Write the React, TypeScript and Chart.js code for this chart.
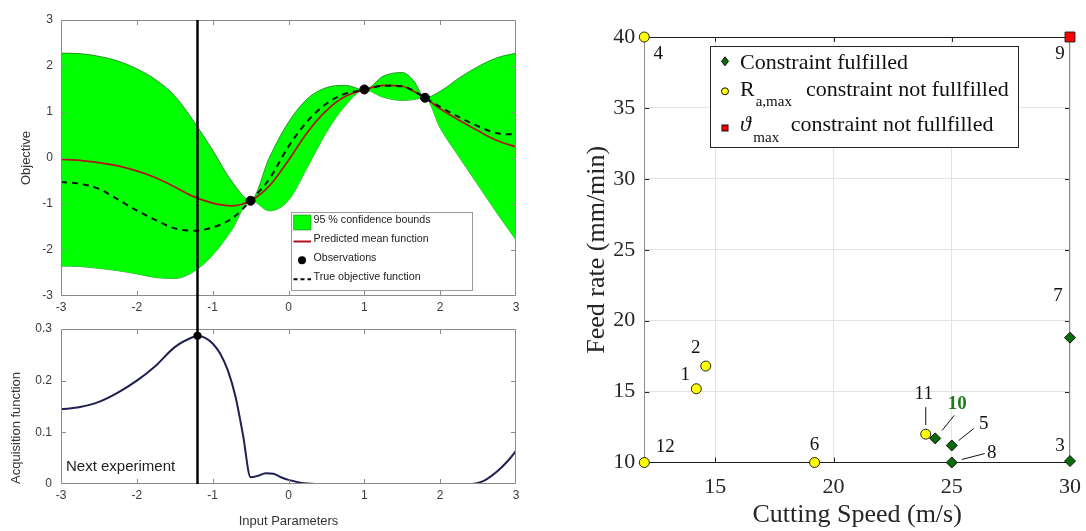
import React, { useEffect, useRef } from "react";
import { Chart, registerables } from "chart.js";

Chart.register(...registerables);

const SANS = '"Liberation Sans", Arial, Helvetica, sans-serif';
const SERIF = '"Liberation Serif", "Times New Roman", "DejaVu Serif", serif';

// ---------------- Left: Gaussian-process surrogate (top) ----------------
const gpX = [-3, -2.75, -2.5, -2.25, -2, -1.75, -1.5, -1.25, -1, -0.75, -0.5, -0.25, 0, 0.25, 0.5, 0.75, 1, 1.25, 1.5, 1.65, 1.8, 2, 2.25, 2.5, 2.75, 3];
const upperBound = [2.28, 2.27, 2.21, 2.11, 1.94, 1.7, 1.35, 0.8, 0.17, -0.5, -0.92, 0.02, 0.78, 1.29, 1.53, 1.58, 1.48, 1.78, 1.86, 1.68, 1.31, 1.45, 1.74, 1.99, 2.18, 2.28];
const lowerBound = [-2.35, -2.36, -2.4, -2.45, -2.52, -2.6, -2.62, -2.47, -2.11, -1.57, -0.92, -1.15, -0.92, -0.2, 0.56, 1.14, 1.48, 1.32, 1.25, 1.27, 1.31, 0.65, 0.02, -0.59, -1.2, -1.78];
const predictedMean = [-0.03, -0.05, -0.1, -0.17, -0.28, -0.43, -0.63, -0.84, -0.98, -1.04, -0.93, -0.6, -0.05, 0.56, 1.03, 1.34, 1.48, 1.58, 1.56, 1.45, 1.31, 1.07, 0.82, 0.59, 0.38, 0.24];
const trueObjective = [-0.52, -0.56, -0.67, -0.9, -1.14, -1.35, -1.53, -1.58, -1.51, -1.32, -0.93, -0.45, 0.25, 0.8, 1.18, 1.4, 1.48, 1.57, 1.56, 1.46, 1.31, 1.11, 0.89, 0.69, 0.54, 0.51];
const obsX = [-0.5, 1.0, 1.8];
const obsY = [-0.93, 1.49, 1.31];
const nextExperimentX = -1.2;

// ---------------- Left: acquisition function (bottom) ----------------
const acqX = [-3, -2.75, -2.5, -2.25, -2, -1.75, -1.5, -1.25, -1.2, -1.1, -1, -0.9, -0.8, -0.7, -0.6, -0.5, -0.4, -0.3, -0.2, -0.1, 0, 0.25, 0.5, 1, 1.5, 2, 2.4, 2.5, 2.6, 2.75, 2.9, 3];
const acqY = [0.1445, 0.149, 0.159, 0.177, 0.2, 0.229, 0.265, 0.285, 0.287, 0.283, 0.272, 0.252, 0.22, 0.17, 0.095, 0.013, 0.016, 0.021, 0.02, 0.013, 0.008, 0.001, 0, 0, 0, 0, 0, 0.002, 0.008, 0.024, 0.046, 0.064];
const nextExperimentAcq = 0.287;

const inputTicks = [-3, -2, -1, 0, 1, 2, 3];
const objectiveTicks = [-3, -2, -1, 0, 1, 2, 3];
const acqTicks = [0, 0.1, 0.2, 0.3];

// ---------------- Right: experiments ----------------
const fulfilledSpeed = [30, 25, 30, 25, 24.3];
const fulfilledFeed = [10.1, 11.2, 18.8, 10.0, 11.7];
const fulfilledIds = [3, 5, 7, 8, 10];
const raSpeed = [14.2, 14.6, 12, 19.2, 23.9, 12];
const raFeed = [15.2, 16.8, 40, 10, 12, 10];
const raIds = [1, 2, 4, 6, 11, 12];
const thetaSpeed = [30];
const thetaFeed = [40];
const thetaIds = [9];
const speedTicks = [15, 20, 25, 30];
const feedTicks = [10, 15, 20, 25, 30, 35, 40];

// label placement (pixel offsets from the marker), leader lines
const LABEL_LAYOUT: Record<number, { dx: number; dy: number; lead?: number[]; bold?: boolean }> = {
  1: { dx: -11, dy: -14 },
  2: { dx: -10, dy: -18 },
  3: { dx: -10, dy: -15 },
  4: { dx: 14, dy: 17 },
  5: { dx: 32, dy: -21, lead: [22, -17, 7, -5] },
  6: { dx: 0, dy: -17 },
  7: { dx: -12, dy: -42 },
  8: { dx: 40, dy: -9, lead: [33, -9, 10, -3] },
  9: { dx: -10, dy: 17 },
  10: { dx: 22, dy: -34, lead: [19, -23, 7, -8], bold: true },
  11: { dx: -2, dy: -40, lead: [0, -27, 0, -9] },
  12: { dx: 21, dy: -15 },
};

const pts = (xs: number[], ys: number[]) => xs.map((x, i) => ({ x, y: ys[i] }));

function framePlugin(id: string, o: { tl: number; tick: string; top: string; bottom: string; left: string; right: string; before?: boolean }) {
  const draw = (chart: any) => {
    const { ctx, chartArea: a, scales } = chart;
    const xs = scales.x;
    const ys = scales.y;
    ctx.save();
    ctx.lineWidth = 1;
    ctx.strokeStyle = o.tick;
    ctx.beginPath();
    for (const t of xs.ticks) {
      if (t.value <= xs.min + 1e-9 || t.value >= xs.max - 1e-9) continue;
      const p = Math.round(xs.getPixelForValue(t.value)) + 0.5;
      ctx.moveTo(p, a.top);
      ctx.lineTo(p, a.top + o.tl);
      ctx.moveTo(p, a.bottom);
      ctx.lineTo(p, a.bottom - o.tl);
    }
    for (const t of ys.ticks) {
      if (t.value <= ys.min + 1e-9 || t.value >= ys.max - 1e-9) continue;
      const p = Math.round(ys.getPixelForValue(t.value)) + 0.5;
      ctx.moveTo(a.left, p);
      ctx.lineTo(a.left + o.tl, p);
      ctx.moveTo(a.right, p);
      ctx.lineTo(a.right - o.tl, p);
    }
    ctx.stroke();
    const L = Math.round(a.left) + 0.5;
    const R = Math.round(a.right) - 0.5;
    const T = Math.round(a.top) + 0.5;
    const B = Math.round(a.bottom) - 0.5;
    const seg = (c: string, x1: number, y1: number, x2: number, y2: number) => {
      ctx.strokeStyle = c;
      ctx.beginPath();
      ctx.moveTo(x1, y1);
      ctx.lineTo(x2, y2);
      ctx.stroke();
    };
    seg(o.left, L, T, L, B);
    seg(o.right, R, T, R, B);
    seg(o.top, L, T, R, T);
    seg(o.bottom, L, B, R, B);
    ctx.restore();
  };
  return o.before ? { id, beforeDatasetsDraw: draw } : { id, afterDatasetsDraw: draw };
}

const topExtras = {
  id: "topExtras",
  afterDraw(chart: any) {
    const { ctx, chartArea: a, scales } = chart;
    ctx.save();
    // next-experiment line
    const xp = scales.x.getPixelForValue(nextExperimentX);
    ctx.strokeStyle = "#000";
    ctx.lineWidth = 2.5;
    ctx.beginPath();
    ctx.moveTo(xp, a.top);
    ctx.lineTo(xp, chart.height);
    ctx.stroke();
    // legend
    const bx = a.left + 230;
    const by = a.top + 192.3;
    ctx.fillStyle = "#fff";
    ctx.fillRect(bx, by, 181, 78);
    ctx.strokeStyle = "#9a9a9a";
    ctx.lineWidth = 1;
    ctx.strokeRect(Math.round(bx) + 0.5, Math.round(by) + 0.5, 181, 78);
    ctx.fillStyle = "#00ff00";
    ctx.fillRect(bx + 2.7, by + 2.7, 17.3, 15);
    ctx.strokeStyle = "#2a7a2a";
    ctx.lineWidth = 0.6;
    ctx.strokeRect(bx + 2.7, by + 2.7, 17.3, 15);
    ctx.strokeStyle = "#b4121b";
    ctx.lineWidth = 2;
    ctx.beginPath();
    ctx.moveTo(bx + 2.5, by + 29.2);
    ctx.lineTo(bx + 20, by + 29.2);
    ctx.stroke();
    ctx.fillStyle = "#000";
    ctx.beginPath();
    ctx.arc(bx + 11, by + 48, 4, 0, Math.PI * 2);
    ctx.fill();
    ctx.strokeStyle = "#000";
    ctx.setLineDash([4, 3]);
    ctx.beginPath();
    ctx.moveTo(bx + 2.5, by + 67);
    ctx.lineTo(bx + 20, by + 67);
    ctx.stroke();
    ctx.setLineDash([]);
    ctx.fillStyle = "#222";
    ctx.font = `10.7px ${SANS}`;
    ctx.textBaseline = "middle";
    ctx.textAlign = "left";
    const tx = bx + 22.5;
    ctx.fillText("95 % confidence bounds", tx, by + 8);
    ctx.fillText("Predicted mean function", tx, by + 26.5);
    ctx.fillText("Observations", tx, by + 45.5);
    ctx.fillText("True objective function", tx, by + 64.5);
    ctx.restore();
  },
};

const bottomExtras = {
  id: "bottomExtras",
  afterDraw(chart: any) {
    const { ctx, chartArea: a, scales } = chart;
    ctx.save();
    const xp = scales.x.getPixelForValue(nextExperimentX);
    ctx.strokeStyle = "#000";
    ctx.lineWidth = 2.5;
    ctx.beginPath();
    ctx.moveTo(xp, 0);
    ctx.lineTo(xp, a.bottom);
    ctx.stroke();
    ctx.fillStyle = "#000";
    ctx.beginPath();
    ctx.arc(xp, scales.y.getPixelForValue(nextExperimentAcq), 4, 0, Math.PI * 2);
    ctx.fill();
    ctx.fillStyle = "#222";
    ctx.font = `15px ${SANS}`;
    ctx.textAlign = "left";
    ctx.textBaseline = "alphabetic";
    ctx.fillText("Next experiment", a.left + 5, a.bottom - 13.5);
    ctx.restore();
  },
};

const rightExtras = {
  id: "rightExtras",
  afterDraw(chart: any) {
    const { ctx, chartArea: a } = chart;
    ctx.save();
    // point labels
    const idSets = [fulfilledIds, raIds, thetaIds];
    idSets.forEach((ids, di) => {
      const meta = chart.getDatasetMeta(di);
      ids.forEach((id, i) => {
        const el = meta.data[i];
        const lay = LABEL_LAYOUT[id];
        if (!el || !lay) return;
        const px = el.x;
        const py = el.y;
        if (lay.lead) {
          ctx.strokeStyle = "#111";
          ctx.lineWidth = 1;
          ctx.beginPath();
          ctx.moveTo(px + lay.lead[0], py + lay.lead[1]);
          ctx.lineTo(px + lay.lead[2], py + lay.lead[3]);
          ctx.stroke();
        }
        ctx.font = `${lay.bold ? "bold " : ""}19px ${SERIF}`;
        ctx.fillStyle = lay.bold ? "#1b7d1b" : "#111";
        ctx.textAlign = "center";
        ctx.textBaseline = "middle";
        ctx.fillText(String(id), px + lay.dx, py + lay.dy);
      });
    });
    // legend
    const bx = a.left + 65.7;
    const by = a.top + 9.3;
    const bw = 308;
    const bh = 101;
    ctx.fillStyle = "#fff";
    ctx.fillRect(bx, by, bw, bh);
    ctx.strokeStyle = "#262626";
    ctx.lineWidth = 1;
    ctx.strokeRect(Math.round(bx) + 0.5, Math.round(by) + 0.5, bw, bh);
    const mx = bx + 15;
    // diamond
    ctx.fillStyle = "#0b6b0b";
    ctx.strokeStyle = "#111";
    ctx.beginPath();
    ctx.moveTo(mx, by + 15 - 4.5);
    ctx.lineTo(mx + 3.5, by + 15);
    ctx.lineTo(mx, by + 15 + 4.5);
    ctx.lineTo(mx - 3.5, by + 15);
    ctx.closePath();
    ctx.fill();
    ctx.stroke();
    // circle
    ctx.fillStyle = "#ffff00";
    ctx.beginPath();
    ctx.arc(mx, by + 45, 3.5, 0, Math.PI * 2);
    ctx.fill();
    ctx.stroke();
    // square
    ctx.fillStyle = "#ff0000";
    ctx.fillRect(mx - 3, by + 81.7 - 3, 6, 6);
    ctx.strokeRect(mx - 3, by + 81.7 - 3, 6, 6);
    // texts
    ctx.fillStyle = "#111";
    ctx.textAlign = "left";
    ctx.textBaseline = "alphabetic";
    const tx = bx + 30;
    ctx.font = `22px ${SERIF}`;
    ctx.fillText("Constraint fulfilled", tx, by + 22.3);
    ctx.fillText("R", tx, by + 49.7);
    const w = ctx.measureText("R").width;
    ctx.font = `15px ${SERIF}`;
    ctx.fillText("a,max", tx + w + 1, by + 60);
    let w2 = ctx.measureText("a,max").width;
    ctx.font = `22px ${SERIF}`;
    ctx.fillText("constraint not fullfilled", tx + w + 1 + w2 + 14, by + 49.7);
    ctx.font = `italic 22px ${SERIF}`;
    ctx.fillText("\u03D1", tx, by + 84.7);
    ctx.font = `15px ${SERIF}`;
    ctx.fillText("max", tx + 13.3, by + 95.7);
    w2 = ctx.measureText("max").width;
    ctx.font = `22px ${SERIF}`;
    ctx.fillText("constraint not fullfilled", tx + 13.3 + w2 + 11.5, by + 84.7);
    ctx.restore();
  },
};

const baseOptions = {
  responsive: false,
  animation: false as const,
  devicePixelRatio: 1,
  events: [] as any[],
  plugins: { legend: { display: false }, tooltip: { enabled: false } },
};

const noGrid = { display: false, drawTicks: false };

const fixX = (h: number) => (s: any) => {
  s.height = h;
  s.paddingLeft = 0;
  s.paddingRight = 0;
};
const fixY = (w: number) => (s: any) => {
  s.width = w;
  s.paddingTop = 0;
  s.paddingBottom = 0;
};

function topConfig(): any {
  const line = (data: number[], extra: any) => ({
    data: pts(gpX, data),
    pointRadius: 0,
    cubicInterpolationMode: "monotone",
    ...extra,
  });
  return {
    type: "line",
    data: {
      datasets: [
        line(lowerBound, { label: "lower", borderColor: "#207a20", borderWidth: 0.8, fill: false, order: 11 }),
        line(upperBound, { label: "95 % confidence bounds", borderColor: "#207a20", borderWidth: 0.8, backgroundColor: "#00ff00", fill: "-1", order: 10 }),
        line(predictedMean, { label: "Predicted mean function", borderColor: "#b4121b", borderWidth: 1.7, fill: false, order: 3 }),
        line(trueObjective, { label: "True objective function", borderColor: "#111", borderWidth: 2, borderDash: [6, 5], fill: false, order: 2 }),
        {
          label: "Observations",
          data: pts(obsX, obsY),
          showLine: false,
          pointRadius: 4.5,
          pointBackgroundColor: "#000",
          pointBorderColor: "#000",
          order: 1,
        },
      ],
    },
    options: {
      ...baseOptions,
      layout: { padding: { top: 20, right: 14, left: 0, bottom: 0 }, autoPadding: false },
      scales: {
        x: {
          type: "linear",
          min: -3,
          max: 3,
          afterBuildTicks: (s: any) => { s.ticks = inputTicks.map((v) => ({ value: v })); },
          afterFit: fixX(20),
          grid: noGrid,
          border: { display: false },
          ticks: { padding: 4, color: "#3a3a3a", font: { family: SANS, size: 12 }, maxRotation: 0, autoSkip: false },
        },
        y: {
          type: "linear",
          min: -3,
          max: 3,
          afterBuildTicks: (s: any) => { s.ticks = objectiveTicks.map((v) => ({ value: v })); },
          afterFit: fixY(61),
          grid: noGrid,
          border: { display: false },
          ticks: { padding: 8, color: "#3a3a3a", font: { family: SANS, size: 12 } },
          title: { display: true, text: "Objective", color: "#333", font: { family: SANS, size: 13 }, padding: { top: 19, bottom: 0 } },
        },
      },
    },
    plugins: [framePlugin("topFrame", { tl: 5, tick: "#8a8a8a", top: "#8a8a8a", bottom: "#8a8a8a", left: "#8a8a8a", right: "#8a8a8a" }), topExtras],
  };
}

function bottomConfig(): any {
  return {
    type: "line",
    data: {
      datasets: [
        {
          label: "Acquisition function",
          data: pts(acqX, acqY),
          borderColor: "#1f2050",
          borderWidth: 2,
          pointRadius: 0,
          cubicInterpolationMode: "monotone",
          fill: false,
        },
      ],
    },
    options: {
      ...baseOptions,
      layout: { padding: { top: 13, right: 14, left: 0, bottom: 0 }, autoPadding: false },
      scales: {
        x: {
          type: "linear",
          min: -3,
          max: 3,
          afterBuildTicks: (s: any) => { s.ticks = inputTicks.map((v) => ({ value: v })); },
          afterFit: fixX(47),
          grid: noGrid,
          border: { display: false },
          ticks: { padding: 4, color: "#3a3a3a", font: { family: SANS, size: 12 }, maxRotation: 0, autoSkip: false },
          title: { display: true, text: "Input Parameters", color: "#333", font: { family: SANS, size: 13 }, padding: { top: 0, bottom: 1.5 } },
        },
        y: {
          type: "linear",
          min: 0,
          max: 0.3,
          afterBuildTicks: (s: any) => { s.ticks = acqTicks.map((v) => ({ value: v })); },
          afterFit: fixY(61),
          grid: noGrid,
          border: { display: false },
          ticks: { padding: 9, color: "#3a3a3a", font: { family: SANS, size: 12 }, callback: (v: number) => String(Math.round(v * 10) / 10) },
          title: { display: true, text: "Acquisition function", align: "start", color: "#333", font: { family: SANS, size: 13 }, padding: { top: 9, bottom: 0 } },
        },
      },
    },
    plugins: [framePlugin("botFrame", { tl: 5, tick: "#8a8a8a", top: "#8a8a8a", bottom: "#8a8a8a", left: "#8a8a8a", right: "#8a8a8a" }), bottomExtras],
  };
}

function rightConfig(): any {
  return {
    type: "scatter",
    data: {
      datasets: [
        {
          label: "Constraint fulfilled",
          data: pts(fulfilledSpeed, fulfilledFeed),
          pointStyle: "rectRot",
          pointRadius: 5.5,
          backgroundColor: "#0b6b0b",
          borderColor: "#111",
          borderWidth: 1,
          clip: false,
        },
        {
          label: "Ra,max constraint not fullfilled",
          data: pts(raSpeed, raFeed),
          pointStyle: "circle",
          pointRadius: 5,
          backgroundColor: "#ffff00",
          borderColor: "#222",
          borderWidth: 1,
          clip: false,
        },
        {
          label: "\u03D1max constraint not fullfilled",
          data: pts(thetaSpeed, thetaFeed),
          pointStyle: "rect",
          pointRadius: 7,
          backgroundColor: "#ff0000",
          borderColor: "#222",
          borderWidth: 1,
          clip: false,
        },
      ],
    },
    options: {
      ...baseOptions,
      layout: { padding: { top: 37, right: 16, left: 0, bottom: 0 }, autoPadding: false },
      scales: {
        x: {
          type: "linear",
          min: 12,
          max: 30,
          afterBuildTicks: (s: any) => { s.ticks = speedTicks.map((v) => ({ value: v })); },
          afterFit: fixX(68.5),
          grid: { color: "#e3e3e3", drawTicks: false },
          border: { display: false },
          ticks: { padding: 12, color: "#262626", font: { family: SERIF, size: 22 }, maxRotation: 0, autoSkip: false },
          title: { display: true, text: "Cutting Speed (m/s)", color: "#262626", font: { family: SERIF, size: 26 }, padding: { top: 0, bottom: 0 } },
        },
        y: {
          type: "linear",
          min: 10,
          max: 40,
          afterBuildTicks: (s: any) => { s.ticks = feedTicks.map((v) => ({ value: v })); },
          afterFit: fixY(64.3),
          grid: { color: "#e3e3e3", drawTicks: false },
          border: { display: false },
          ticks: { padding: 9, color: "#262626", font: { family: SERIF, size: 22 } },
          title: { display: true, text: "Feed rate (mm/min)", color: "#262626", font: { family: SERIF, size: 26 }, padding: { top: 2, bottom: 0 } },
        },
      },
    },
    plugins: [framePlugin("rightFrame", { tl: 5, tick: "#262626", top: "#1a1a1a", bottom: "#1a1a1a", left: "#8c8c8c", right: "#8c8c8c", before: true }), rightExtras],
  };
}

export default function App() {
  const topRef = useRef<HTMLCanvasElement>(null);
  const botRef = useRef<HTMLCanvasElement>(null);
  const rightRef = useRef<HTMLCanvasElement>(null);

  useEffect(() => {
    const charts = [
      new Chart(topRef.current as HTMLCanvasElement, topConfig()),
      new Chart(botRef.current as HTMLCanvasElement, bottomConfig()),
      new Chart(rightRef.current as HTMLCanvasElement, rightConfig()),
    ];
    return () => charts.forEach((c) => c.destroy());
  }, []);

  return (
    <div style={{ position: "fixed", left: 0, top: 0, width: 1086, height: 531, background: "#fff", overflow: "hidden" }}>
      <canvas ref={topRef} width={530} height={316} style={{ position: "absolute", left: 0, top: 0, width: 530, height: 316 }} />
      <canvas ref={botRef} width={530} height={215} style={{ position: "absolute", left: 0, top: 316, width: 530, height: 215 }} />
      <canvas ref={rightRef} width={506} height={531} style={{ position: "absolute", left: 580, top: 0, width: 506, height: 531 }} />
    </div>
  );
}
